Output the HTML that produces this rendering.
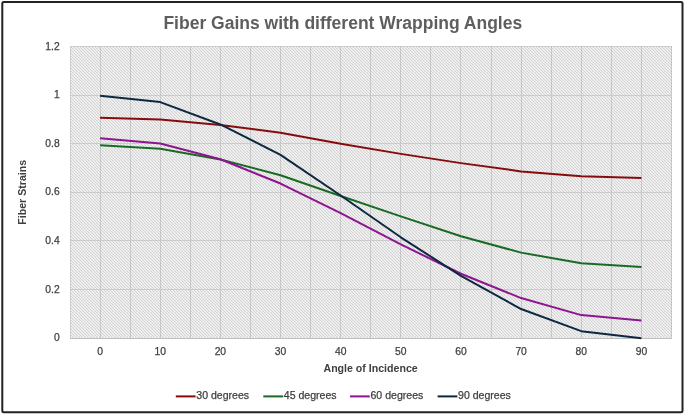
<!DOCTYPE html><html><head><meta charset="utf-8"><style>html,body{margin:0;padding:0;background:#fff;width:685px;height:415px;overflow:hidden}svg{display:block;will-change:transform}text{font-family:"Liberation Sans",sans-serif}</style></head><body>
<svg width="685" height="415" viewBox="0 0 685 415">
<defs><pattern id="hp" width="3" height="3" patternUnits="userSpaceOnUse"><rect x="0" y="0" width="1" height="1" fill="#d0d0d0"/><rect x="1" y="0" width="1" height="1" fill="#ececec"/><rect x="2" y="0" width="1" height="1" fill="#f3f3f3"/><rect x="0" y="1" width="1" height="1" fill="#ececec"/><rect x="1" y="1" width="1" height="1" fill="#d7d7d7"/><rect x="2" y="1" width="1" height="1" fill="#ececec"/><rect x="0" y="2" width="1" height="1" fill="#f3f3f3"/><rect x="1" y="2" width="1" height="1" fill="#ececec"/><rect x="2" y="2" width="1" height="1" fill="#d0d0d0"/></pattern></defs>
<rect x="2.3" y="1.9" width="680.2" height="410.4" rx="1.5" fill="#fff" stroke="#222" stroke-width="2"/>
<text x="342.8" y="28.5" text-anchor="middle" font-size="17.5" font-weight="bold" fill="#5e5e5e">Fiber Gains with different Wrapping Angles</text>
<rect x="70" y="46" width="602" height="292" fill="url(#hp)"/>
<path d="M100.5,46V338M130.5,46V338M160.5,46V338M190.5,46V338M220.5,46V338M250.5,46V338M280.5,46V338M310.5,46V338M340.5,46V338M370.5,46V338M400.5,46V338M430.5,46V338M460.5,46V338M491.5,46V338M521.5,46V338M551.5,46V338M581.5,46V338M611.5,46V338M641.5,46V338M671.5,46V338" stroke="rgba(0,0,0,0.13)" stroke-width="1" fill="none"/>
<path d="M70,95.5H672M70,143.5H672M70,192.5H672M70,240.5H672M70,289.5H672" stroke="#cbcbcb" stroke-width="1" fill="none"/>
<path d="M70,46.5H672M70.5,46V338" stroke="#cccccc" stroke-width="1" fill="none"/>
<path d="M70,338.5H672" stroke="#bfbfbf" stroke-width="1" fill="none"/>
<text x="59.7" y="341.30" text-anchor="end" font-size="10.3" fill="#404040" stroke="#404040" stroke-width="0.25">0</text>
<text x="59.7" y="292.67" text-anchor="end" font-size="10.3" fill="#404040" stroke="#404040" stroke-width="0.25">0.2</text>
<text x="59.7" y="244.03" text-anchor="end" font-size="10.3" fill="#404040" stroke="#404040" stroke-width="0.25">0.4</text>
<text x="59.7" y="195.40" text-anchor="end" font-size="10.3" fill="#404040" stroke="#404040" stroke-width="0.25">0.6</text>
<text x="59.7" y="146.77" text-anchor="end" font-size="10.3" fill="#404040" stroke="#404040" stroke-width="0.25">0.8</text>
<text x="59.7" y="98.13" text-anchor="end" font-size="10.3" fill="#404040" stroke="#404040" stroke-width="0.25">1</text>
<text x="59.7" y="49.50" text-anchor="end" font-size="10.3" fill="#404040" stroke="#404040" stroke-width="0.25">1.2</text>
<text x="100.08" y="355.1" text-anchor="middle" font-size="10.3" fill="#404040" stroke="#404040" stroke-width="0.25">0</text>
<text x="160.22" y="355.1" text-anchor="middle" font-size="10.3" fill="#404040" stroke="#404040" stroke-width="0.25">10</text>
<text x="220.38" y="355.1" text-anchor="middle" font-size="10.3" fill="#404040" stroke="#404040" stroke-width="0.25">20</text>
<text x="280.52" y="355.1" text-anchor="middle" font-size="10.3" fill="#404040" stroke="#404040" stroke-width="0.25">30</text>
<text x="340.68" y="355.1" text-anchor="middle" font-size="10.3" fill="#404040" stroke="#404040" stroke-width="0.25">40</text>
<text x="400.82" y="355.1" text-anchor="middle" font-size="10.3" fill="#404040" stroke="#404040" stroke-width="0.25">50</text>
<text x="460.97" y="355.1" text-anchor="middle" font-size="10.3" fill="#404040" stroke="#404040" stroke-width="0.25">60</text>
<text x="521.12" y="355.1" text-anchor="middle" font-size="10.3" fill="#404040" stroke="#404040" stroke-width="0.25">70</text>
<text x="581.27" y="355.1" text-anchor="middle" font-size="10.3" fill="#404040" stroke="#404040" stroke-width="0.25">80</text>
<text x="641.42" y="355.1" text-anchor="middle" font-size="10.3" fill="#404040" stroke="#404040" stroke-width="0.25">90</text>
<text x="370.6" y="372" text-anchor="middle" font-size="10.6" font-weight="bold" fill="#404040">Angle of Incidence</text>
<text transform="translate(25.6,192.3) rotate(-90)" text-anchor="middle" font-size="10.6" font-weight="bold" fill="#404040">Fiber Strains</text>
<polyline points="100.08,117.65 160.22,119.59 220.38,124.94 280.52,132.72 340.68,143.67 400.82,153.88 460.97,163.12 521.12,171.39 581.27,176.25 641.42,177.95" fill="none" stroke="#860C0C" stroke-width="2.0" stroke-linejoin="round" stroke-linecap="butt"/>
<polyline points="100.08,145.37 160.22,148.77 220.38,159.47 280.52,175.28 340.68,195.95 400.82,216.37 460.97,236.31 521.12,252.61 581.27,263.30 641.42,266.95" fill="none" stroke="#196B24" stroke-width="2.0" stroke-linejoin="round" stroke-linecap="butt"/>
<polyline points="100.08,138.32 160.22,143.42 220.38,159.23 280.52,183.55 340.68,213.21 400.82,244.34 460.97,273.76 521.12,298.08 581.27,315.10 641.42,320.45" fill="none" stroke="#8E1490" stroke-width="2.0" stroke-linejoin="round" stroke-linecap="butt"/>
<polyline points="100.08,95.76 160.22,102.09 220.38,124.46 280.52,154.85 340.68,195.46 400.82,237.29 460.97,275.95 521.12,309.02 581.27,331.15 641.42,338.20" fill="none" stroke="#0E2841" stroke-width="2.0" stroke-linejoin="round" stroke-linecap="butt"/>
<path d="M175.8,396.4H195.60000000000002" stroke="#860C0C" stroke-width="2"/>
<text x="196.3" y="399.2" font-size="10.55" fill="#404040" stroke="#404040" stroke-width="0.25">30 degrees</text>
<path d="M263.3,396.4H283.1" stroke="#196B24" stroke-width="2"/>
<text x="283.8" y="399.2" font-size="10.55" fill="#404040" stroke="#404040" stroke-width="0.25">45 degrees</text>
<path d="M350.0,396.4H369.8" stroke="#8E1490" stroke-width="2"/>
<text x="370.5" y="399.2" font-size="10.55" fill="#404040" stroke="#404040" stroke-width="0.25">60 degrees</text>
<path d="M437.6,396.4H457.40000000000003" stroke="#0E2841" stroke-width="2"/>
<text x="458.1" y="399.2" font-size="10.55" fill="#404040" stroke="#404040" stroke-width="0.25">90 degrees</text>
</svg></body></html>
